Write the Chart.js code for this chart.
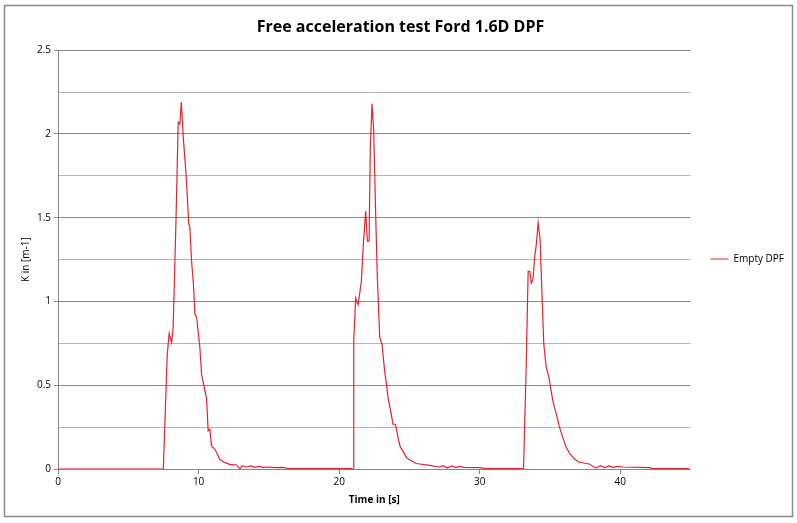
<!DOCTYPE html>
<html>
<head>
<meta charset="utf-8">
<script src="https://cdn.jsdelivr.net/npm/chart.js@4"></script>
<style>
  html, body { margin: 0; padding: 0; background: #fff; }
  #wrap { width: 797px; height: 523px; }
</style>
</head>
<body>
<div id="wrap"><canvas id="dpfChart" width="797" height="523"></canvas></div>
<script>
// values
const times = [0, 7.49, 7.77, 7.91, 8.08, 8.19, 8.39, 8.55, 8.67, 8.77, 8.91, 9.14, 9.29, 9.38, 9.5, 9.62, 9.74, 9.86, 10.09, 10.21, 10.45, 10.57, 10.68, 10.8, 10.92, 11.16, 11.28, 11.51, 11.87, 12.22, 12.7, 12.94, 13.1, 13.4, 13.7, 14.0, 14.3, 14.6, 15.0, 15.5, 16.0, 16.4, 20.83,
  20.99, 21.04, 21.18, 21.35, 21.58, 21.7, 21.89, 22.01, 22.13, 22.22, 22.34, 22.46, 22.6, 22.72, 22.89, 23.05, 23.24, 23.48, 23.71, 23.83, 24.01, 24.19, 24.35, 24.54, 24.78, 24.95, 25.49, 26.44, 27.1, 27.4, 27.7, 28.0, 28.3, 28.6, 28.9, 30.0, 30.47, 33.07,
  33.12, 33.31, 33.45, 33.57, 33.67, 33.79, 33.93, 34.02, 34.16, 34.3, 34.45, 34.56, 34.73, 34.92, 35.2, 35.44, 35.68, 35.91, 36.15, 36.43, 36.74, 37.1, 37.8, 38.3, 38.6, 38.9, 39.2, 39.5, 39.8, 40.2, 42.1, 42.3, 44.9];
const kValues = [0, 0, 0.686, 0.81, 0.755, 0.845, 1.48, 2.07, 2.06, 2.19, 1.98, 1.72, 1.47, 1.44, 1.24, 1.12, 0.925, 0.905, 0.725, 0.566, 0.467, 0.417, 0.227, 0.237, 0.138, 0.118, 0.098, 0.058, 0.038, 0.028, 0.024, 0, 0.02, 0.012, 0.018, 0.01, 0.016, 0.01, 0.012, 0.008, 0.01, 0.003, 0.003,
  0, 0.766, 1.02, 0.98, 1.12, 1.31, 1.54, 1.36, 1.36, 1.92, 2.18, 2.02, 1.52, 1.14, 0.785, 0.745, 0.586, 0.426, 0.327, 0.267, 0.267, 0.188, 0.132, 0.108, 0.068, 0.058, 0.033, 0.022, 0.012, 0.02, 0.006, 0.018, 0.008, 0.016, 0.01, 0.008, 0.002, 0.002,
  0, 0.61, 1.18, 1.18, 1.11, 1.13, 1.28, 1.33, 1.47, 1.37, 1.01, 0.75, 0.61, 0.55, 0.41, 0.33, 0.25, 0.19, 0.13, 0.09, 0.06, 0.04, 0.03, 0.005, 0.02, 0.008, 0.018, 0.01, 0.016, 0.012, 0.008, 0.002, 0.002];
const xTicks = [0, 10, 20, 30, 40];
const yTicks = [0, 0.5, 1, 1.5, 2, 2.5];

const points = times.map((t, i) => ({ x: t, y: kValues[i] }));
const font = 'Open Sans, "DejaVu Sans", sans-serif';

const frame = {
  id: 'frame',
  beforeDraw(chart) {
    const c = chart.ctx;
    c.save();
    c.fillStyle = '#fff';
    c.fillRect(0, 0, chart.width, chart.height);
    c.strokeStyle = '#8c8c8c';
    c.lineWidth = 1.5;
    c.strokeRect(4.5, 5.5, 788, 511);
    c.restore();
  }
};

new Chart(document.getElementById('dpfChart'), {
  type: 'line',
  data: {
    datasets: [{
      label: 'Empty DPF',
      data: points,
      borderColor: '#e8202a',
      backgroundColor: '#e8202a',
      borderWidth: 1.2,
      pointRadius: 0,
      tension: 0
    }]
  },
  options: {
    responsive: false,
    animation: false,
    layout: { padding: { left: 7, right: 3, top: 8, bottom: 13 } },
    plugins: {
      title: {
        display: true,
        text: 'Free acceleration test Ford 1.6D DPF',
        color: '#000',
        font: { family: font, size: 16, weight: 'bold' },
        padding: { top: 10, bottom: 13 }
      },
      legend: {
        position: 'right',
        labels: {
          usePointStyle: true,
          pointStyle: 'line',
          pointStyleWidth: 18,
          color: '#000',
          font: { family: font, size: 10 },
          padding: 20
        }
      },
      tooltip: { enabled: false }
    },
    scales: {
      x: {
        type: 'linear',
        min: 0,
        max: 45,
        afterBuildTicks(scale) { scale.ticks = xTicks.map(v => ({ value: v })); },
        ticks: { color: '#000', font: { family: font, size: 10 }, padding: 2 },
        grid: { drawOnChartArea: false, color: '#868686', tickLength: 5 },
        border: { color: '#868686' },
        title: {
          display: true, text: 'Time in [s]', color: '#000',
          font: { family: font, size: 10, weight: 'bold' }, padding: { top: 4 }
        }
      },
      y: {
        min: 0,
        max: 2.5,
        afterBuildTicks(scale) {
          const t = [];
          for (let i = 0; i <= 10; i++) t.push({ value: i * 0.25 });
          scale.ticks = t;
        },
        ticks: {
          color: '#000',
          font: { family: font, size: 10 },
          padding: 3,
          callback: v => (yTicks.includes(v) ? String(v) : '')
        },
        grid: {
          color: ctx => (yTicks.includes(ctx.tick && ctx.tick.value) ? '#868686' : '#b4b4b4'),
          tickColor: ctx => (yTicks.includes(ctx.tick && ctx.tick.value) ? '#868686' : 'rgba(0,0,0,0)'),
          tickLength: 4
        },
        border: { color: '#868686' },
        title: {
          display: true, text: 'K in [m-1]', color: '#000',
          font: { family: font, size: 10 }, padding: { top: 13, bottom: 2 }
        }
      }
    }
  },
  plugins: [frame]
});
</script>
</body>
</html>
